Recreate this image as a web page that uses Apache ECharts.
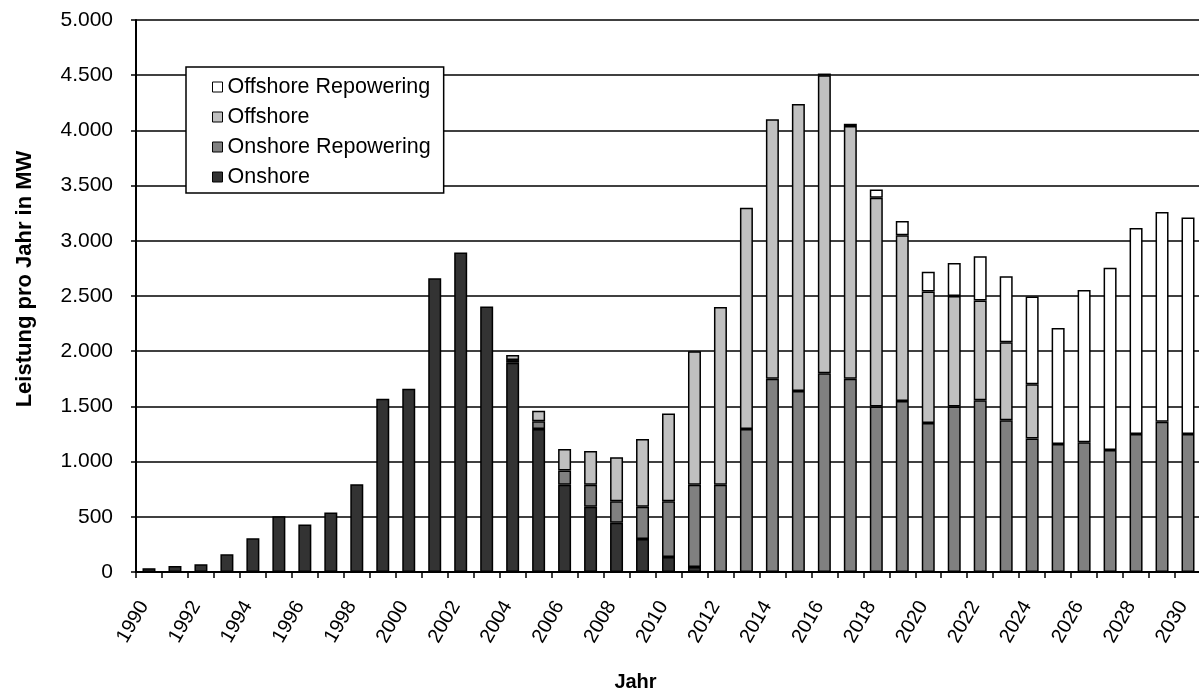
<!DOCTYPE html>
<html>
<head>
<meta charset="utf-8">
<script src="https://cdn.jsdelivr.net/npm/echarts@6/dist/echarts.min.js"></script>
<style>
html,body{margin:0;padding:0;background:#fff;}
#chart{width:1199px;height:693px;}
</style>
</head>
<body>
<div id="chart"></div>
<script>
const years = ['1990','1991','1992','1993','1994','1995','1996','1997','1998','1999','2000','2001','2002','2003','2004','2005','2006','2007','2008','2009','2010','2011','2012','2013','2014','2015','2016','2017','2018','2019','2020','2021','2022','2023','2024','2025','2026','2027','2028','2029','2030'];

const onshore = [35,55,70,160,305,505,430,540,795,1570,1660,2660,2895,2405,1895,1295,790,590,445,300,135,45,null,null,null,null,null,null,null,null,null,null,null,null,null,null,null,null,null,null,null];

const onshoreRepowering = [null,null,null,null,null,null,null,null,null,null,null,null,null,null,25,70,130,200,195,290,505,745,790,1295,1750,1640,1800,1750,1500,1550,1350,1500,1555,1375,1210,1160,1175,1105,1250,1360,1250];

const offshore = [null,null,null,null,null,null,null,null,null,null,null,null,null,null,45,95,195,305,400,615,795,1210,1610,2005,2350,2600,2700,2290,1890,1500,1190,1000,905,705,490,null,null,null,null,null,null];

const offshoreRepowering = [null,null,null,null,null,null,null,null,null,null,null,null,null,null,null,null,null,null,null,null,null,null,null,null,null,null,15,20,75,130,180,300,400,600,795,1050,1380,1650,1865,1900,1960];

const yTicks = {min: 0, max: 5000, interval: 500};

const FONT = 'Liberation Sans, Arial, sans-serif';

function mkSeries(name, data, color) {
  return {
    name: name,
    type: 'bar',
    stack: 'total',
    data: data,
    barWidth: '50%',
    itemStyle: {color: color, borderColor: '#000', borderWidth: 1.5},
    emphasis: {disabled: true}
  };
}

const chart = echarts.init(document.getElementById('chart'), null, {renderer: 'canvas'});
chart.setOption({
  animation: false,
  backgroundColor: '#fff',
  textStyle: {fontFamily: FONT, color: '#000'},
  grid: {left: 136, top: 20, width: 1065, height: 552, containLabel: false, outerBoundsMode: 'none'},
  legend: {
    orient: 'vertical',
    left: 186,
    top: 67,
    data: ['Offshore Repowering','Offshore','Onshore Repowering','Onshore'],
    backgroundColor: '#fff',
    borderColor: '#000',
    borderWidth: 1.5,
    borderRadius: 0,
    padding: [9, 13, 5, 26],
    itemWidth: 10,
    itemHeight: 10,
    itemGap: 8,
    icon: 'rect',
    itemStyle: {borderColor: '#000', borderWidth: 1},
    textStyle: {fontSize: 21.5, color: '#000', fontFamily: FONT, lineHeight: 21},
    selectedMode: false
  },
  xAxis: {
    type: 'category',
    data: years,
    name: 'Jahr',
    nameLocation: 'middle',
    nameGap: 100,
    nameTextStyle: {fontSize: 20, fontWeight: 'bold', color: '#000', fontFamily: FONT, padding: [0, 66, 0, 0]},
    axisLine: {lineStyle: {color: '#000', width: 2}},
    axisTick: {show: true, interval: 0, alignWithLabel: false, inside: false, length: 6, lineStyle: {color: '#000', width: 1.5}},
    axisLabel: {interval: 1, rotate: 60, fontSize: 20, color: '#000', fontFamily: FONT, margin: 22, padding: [0, 10, 0, 0]},
    splitLine: {show: false}
  },
  yAxis: {
    type: 'value',
    min: yTicks.min,
    max: yTicks.max,
    interval: yTicks.interval,
    name: 'Leistung pro Jahr in MW',
    nameLocation: 'middle',
    nameGap: 100,
    nameTextStyle: {fontSize: 22, fontWeight: 'bold', color: '#000', fontFamily: FONT, padding: [0, 0, 0, 34]},
    axisLine: {show: true, lineStyle: {color: '#000', width: 2}},
    axisTick: {show: true, inside: false, length: 5, lineStyle: {color: '#000', width: 1.5}},
    axisLabel: {
      fontSize: 21, color: '#000', fontFamily: FONT, margin: 23,
      formatter: function (v) { return v.toLocaleString('de-DE'); }
    },
    splitLine: {show: true, lineStyle: {color: '#000', width: 1.6}}
  },
  series: [
    mkSeries('Onshore', onshore, '#333333'),
    mkSeries('Onshore Repowering', onshoreRepowering, '#808080'),
    mkSeries('Offshore', offshore, '#c0c0c0'),
    mkSeries('Offshore Repowering', offshoreRepowering, '#ffffff')
  ]
});
</script>
</body>
</html>
